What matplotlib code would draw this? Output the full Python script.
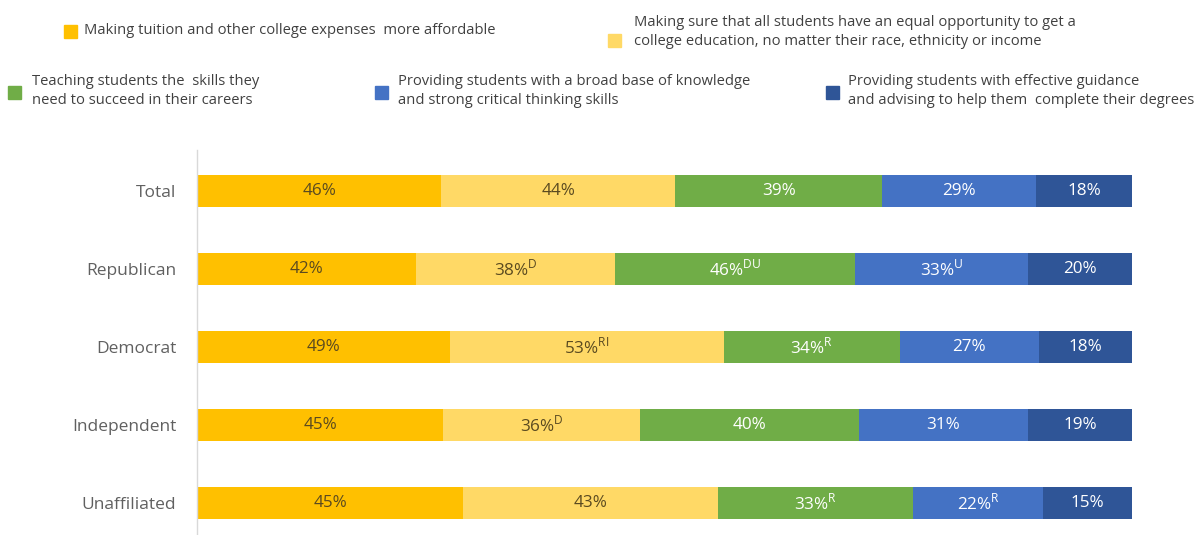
import matplotlib
matplotlib.use("Agg")
import matplotlib.pyplot as plt
from matplotlib.patches import Rectangle
import numpy as np

plt.rcParams['font.family'] = ['Open Sans', 'DejaVu Sans']

categories = ["Total", "Republican", "Democrat", "Independent", "Unaffiliated"]
series_names = [
    "Making tuition and other college expenses  more affordable",
    "Making sure that all students have an equal opportunity to get a\ncollege education, no matter their race, ethnicity or income",
    "Teaching students the  skills they\nneed to succeed in their careers",
    "Providing students with a broad base of knowledge\nand strong critical thinking skills",
    "Providing students with effective guidance\nand advising to help them  complete their degrees",
]
affordable = [46, 42, 49, 45, 45]
equal_opportunity = [44, 38, 53, 36, 43]
career_skills = [39, 46, 34, 40, 33]
broad_knowledge = [29, 33, 27, 31, 22]
guidance = [18, 20, 18, 19, 15]
# significance markers shown as superscripts next to each value
affordable_sig = ["", "", "", "", ""]
equal_opportunity_sig = ["", "D", "RI", "D", ""]
career_skills_sig = ["", "DU", "R", "", "R"]
broad_knowledge_sig = ["", "U", "", "", "R"]
guidance_sig = ["", "", "", "", ""]

series = [affordable, equal_opportunity, career_skills, broad_knowledge, guidance]
sigs = [affordable_sig, equal_opportunity_sig, career_skills_sig, broad_knowledge_sig, guidance_sig]
colors = ["#FFC000", "#FFD966", "#70AD47", "#4472C4", "#2F5597"]
text_colors = ["#5a4a20", "#5a4a20", "white", "white", "white"]

W, H = 1197, 535
fig = plt.figure(figsize=(W / 100, H / 100), dpi=100)
ax = fig.add_axes([197 / W, 0, 935 / W, 385 / H])

data = np.array(series, dtype=float)
totals = data.sum(axis=0)
shares = data / totals
y = np.arange(len(categories))
left = np.zeros(len(categories))
for i in range(len(series)):
    ax.barh(y, shares[i], left=left, height=0.41, color=colors[i], edgecolor="none")
    for j in range(len(categories)):
        label = f"{series[i][j]}%"
        if sigs[i][j]:
            label += r"$^{\mathregular{" + sigs[i][j] + "}}$"
        ax.text(left[j] + shares[i][j] / 2, y[j], label, ha="center", va="center",
                fontsize=12.3, color=text_colors[i])
    left += shares[i]

ax.set_xlim(0, 1)
ax.set_ylim(4.41, -0.526)
ax.set_yticks(y)
ax.set_yticklabels(categories, fontsize=12.5, color="#606060")
ax.tick_params(axis="y", length=0, pad=15)
ax.set_xticks([])
for s in ["top", "right", "bottom"]:
    ax.spines[s].set_visible(False)
ax.spines["left"].set_color("#d9d9d9")
ax.spines["left"].set_linewidth(1)

# legend entries: (square x, square y-center, text x, text y-center)
legend_pos = [
    (64, 31, 84, 31),
    (608, 40, 634, 32),
    (8, 92, 32, 91),
    (375, 92, 398, 91),
    (826, 92, 848, 91),
]
sq = 13
for (sx, sy, tx, ty), name, c in zip(legend_pos, series_names, colors):
    fig.patches.append(Rectangle((sx / W, 1 - (sy + sq / 2) / H), sq / W, sq / H,
                                 transform=fig.transFigure, color=c))
    fig.text(tx / W, 1 - ty / H, name, ha="left", va="center", fontsize=10.6,
             color="#404040", linespacing=1.45)

fig.savefig("out.png", dpi=100)
